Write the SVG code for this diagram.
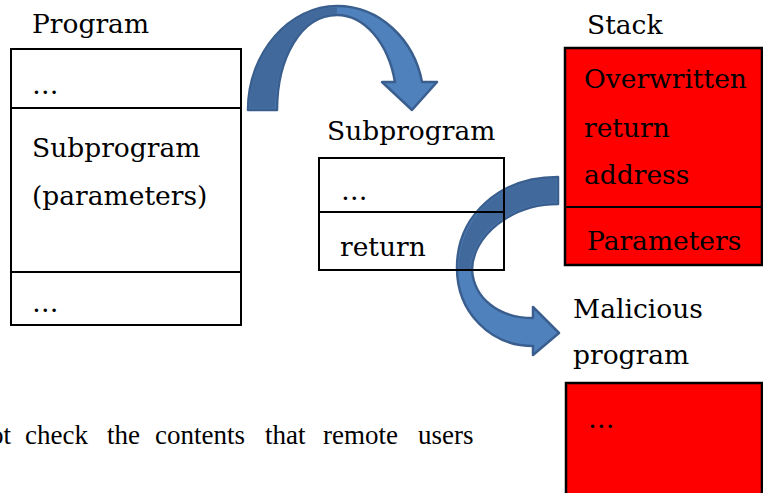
<svg xmlns="http://www.w3.org/2000/svg" width="763" height="493" viewBox="0 0 763 493">
<style>
.t{font-family:"DejaVu Serif","Liberation Serif",serif;font-size:26.5px;fill:#000}
.b{font-family:"Liberation Serif","Times New Roman",serif;font-size:27px;fill:#000}
.box{fill:none;stroke:#000;stroke-width:2}
.red{fill:#ff0000;stroke:#000;stroke-width:2.5}
.ln{stroke:#000;stroke-width:2}
.lt{fill:#4f81bd;stroke:#3a5f8e;stroke-width:2.5;stroke-linejoin:round}
.dk{fill:#41699c;stroke:none}
</style>
<rect width="763" height="493" fill="#fff"/>
<g id="connectors">
  <g id="arrow1">
    <path class="lt" d="M248,110 C248,52 290,6 337,6 C380,6 414,40 422,82 L437,82 L412,110 L382,82 L395,82 C388,42 364,15 337,15 C301,15 277,58 277,110 Z"/>
    <path class="dk" d="M249.5,108.5 C249.5,53 290,7.5 337,7.5 L337,13.5 C302,13.5 275.5,58 275.5,108.5 Z"/>
  </g>
  <g id="arrow2">
    <path class="lt" d="M558,177 C500,177 457,215 457,268 C457,312 490,346 533,346 L533,355 L559,333 L533,307 L533,318 C498,318 474,298 472,270 C472,237 510,204 558,204 Z"/>
    <path class="dk" d="M556.5,178.5 C501,178.5 458.5,216 458.5,270 L470.5,270 C470.5,236 509,202.5 556.5,202.5 Z"/>
  </g>
</g>
<g id="program">
  <text class="t" x="32" y="33">Program</text>
  <rect class="box" x="11" y="49" width="230" height="276"/>
  <line class="ln" x1="11" y1="108" x2="241" y2="108"/>
  <line class="ln" x1="11" y1="272" x2="241" y2="272"/>
  <text class="t" x="32" y="94">…</text>
  <text class="t" x="32" y="157">Subprogram</text>
  <text class="t" x="32" y="205">(parameters)</text>
  <text class="t" x="32" y="312">…</text>
</g>
<g id="subprogram">
  <text class="t" x="327" y="140">Subprogram</text>
  <rect class="box" x="319" y="158" width="185" height="112"/>
  <line class="ln" x1="319" y1="212" x2="504" y2="212"/>
  <text class="t" x="341" y="200">…</text>
  <text class="t" x="340" y="256">return</text>
</g>
<g id="stack">
  <text class="t" x="587" y="34">Stack</text>
  <rect class="red" x="565" y="48" width="197" height="217"/>
  <line class="ln" x1="565" y1="207" x2="762" y2="207"/>
  <text class="t" x="584" y="88">Overwritten</text>
  <text class="t" x="584" y="137">return</text>
  <text class="t" x="584" y="184">address</text>
  <text class="t" x="587" y="250">Parameters</text>
</g>
<g id="malicious">
  <text class="t" x="573" y="318">Malicious</text>
  <text class="t" x="573" y="364">program</text>
  <rect class="red" x="566" y="383" width="196" height="115"/>
  <text class="t" x="588" y="428">…</text>
</g>
<text class="b" y="444"><tspan x="-10">ot</tspan><tspan x="25">check</tspan><tspan x="107">the</tspan><tspan x="155">contents</tspan><tspan x="265">that</tspan><tspan x="323">remote</tspan><tspan x="418">users</tspan></text>
</svg>
